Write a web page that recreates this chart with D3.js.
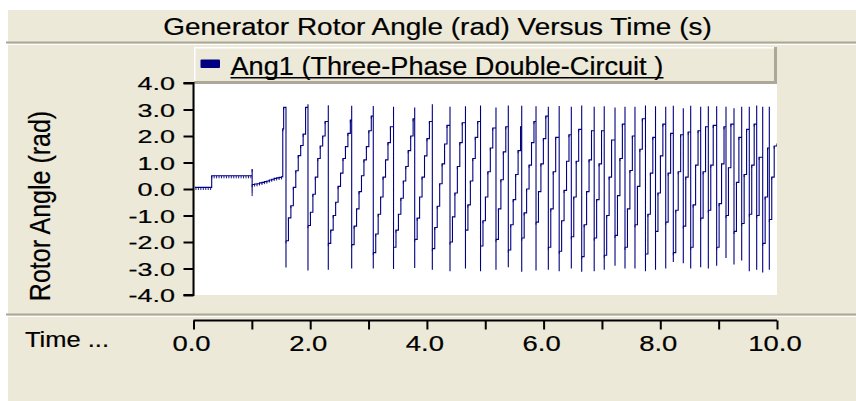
<!DOCTYPE html>
<html>
<head>
<meta charset="utf-8">
<script src="https://cdn.jsdelivr.net/npm/d3@7"></script>
<style>
  html, body { margin: 0; padding: 0; background: #ffffff; }
  svg { display: block; }
  text { font-family: "Liberation Sans", Arial, sans-serif; fill: #000; stroke: #000; stroke-width: 0.2px; }
</style>
</head>
<body>
<svg id="chart" width="856" height="401"></svg>
<script>
// ---- Text ----
const chartTitle = "Generator Rotor Angle (rad) Versus Time (s)";
const seriesName = "Ang1 (Three-Phase Double-Circuit )";
const yAxisTitle = "Rotor Angle (rad)";
const xAxisTitle = "Time ...";

// ---- Axes ----
const yTickValues = [-4, -3, -2, -1, 0, 1, 2, 3, 4];
const yTickLabels = ["-4.0", "-3.0", "-2.0", "-1.0", "0.0", "1.0", "2.0", "3.0", "4.0"];
const xTickValues = [0, 1, 2, 3, 4, 5, 6, 7, 8, 9, 10];
const xLabelValues = [0, 2, 4, 6, 8, 10];
const xTickLabels = ["0.0", "2.0", "4.0", "6.0", "8.0", "10.0"];

// ---- Series: rotor angle (rad) ----
// Output interval of the simulation (s)
const sampleInterval = 0.042;

// Steady state, first switching event and the fault period
const preTime = [0.000, 0.042, 0.084, 0.126, 0.168, 0.210, 0.252, 0.294,
  0.312, 0.354, 0.396, 0.438, 0.480, 0.522, 0.564, 0.606, 0.648, 0.690,
  0.732, 0.774, 0.816, 0.858, 0.900, 0.942, 0.984,
  1.005, 1.005, 1.005, 1.047, 1.089, 1.131, 1.173, 1.215, 1.257, 1.299,
  1.341, 1.383, 1.425, 1.467, 1.509, 1.530, 1.545];
const preAngle = [0.06, 0.06, 0.06, 0.06, 0.06, 0.06, 0.06, 0.06,
  0.50, 0.50, 0.50, 0.50, 0.50, 0.50, 0.50, 0.50, 0.50, 0.50,
  0.50, 0.50, 0.50, 0.50, 0.50, 0.50, 0.50,
  0.75, -0.17, 0.17, 0.19, 0.20, 0.23, 0.25, 0.28, 0.30, 0.34,
  0.37, 0.40, 0.42, 0.44, 0.46, 2.27, 3.08];

// Pole slips: instant where the angle wraps from +pi to -pi
const slipTime = [1.585, 1.962, 2.310, 2.711, 3.081, 3.428, 3.791, 4.093, 4.396, 4.661,
  4.919, 5.184, 5.395, 5.625, 5.870, 6.081, 6.267, 6.475, 6.653, 6.867,
  7.039, 7.224, 7.395, 7.566, 7.746, 7.918, 8.093, 8.223, 8.394, 8.521,
  8.692, 8.823, 8.966, 9.126, 9.263, 9.395, 9.525, 9.652, 9.755, 9.868];
const slipTop = [3.10, 3.20, 3.16, 3.14, 3.13, 3.10, 3.08, 3.20, 3.10, 3.12,
  3.15, 3.08, 3.15, 3.14, 3.12, 3.10, 3.13, 3.10, 3.15, 3.10,
  3.12, 3.08, 3.10, 3.10, 3.15, 3.12, 3.10, 3.14, 3.05, 3.14,
  3.10, 3.12, 3.12, 3.10, 3.05, 3.10, 3.10, 3.15, 3.10, 3.10];
const slipBottom = [-2.96, -3.08, -3.05, -3.00, -3.00, -3.02, -2.98, -3.05, -3.10, -3.00,
  -3.10, -3.05, -2.95, -3.12, -3.08, -3.05, -3.10, -3.00, -3.12, -3.10,
  -3.05, -2.90, -3.00, -3.00, -3.10, -3.05, -3.00, -2.75, -2.80, -3.00,
  -2.95, -3.00, -2.90, -2.60, -2.85, -2.70, -3.10, -3.05, -3.15, -3.05];
// Samples after each slip, one per output interval
const slipStairs = [
  [-1.95, -1.09, -0.63, 0.06, 0.69, 1.26, 1.64, 2.07, 3.08],
  [-1.38, -0.88, -0.20, 0.45, 1.15, 1.62, 2.00, 2.55],
  [-2.05, -1.55, -1.00, -0.50, 0.10, 0.60, 1.15, 1.60, 2.10, 2.60],
  [-2.10, -1.40, -0.75, -0.10, 0.50, 1.10, 1.60, 2.20, 2.75],
  [-2.40, -1.70, -0.95, -0.30, 0.45, 1.10, 1.75, 2.35],
  [-2.20, -1.55, -0.95, -0.35, 0.30, 0.85, 1.45, 2.00, 2.65],
  [-1.90, -1.10, -0.30, 0.45, 1.25, 1.90, 2.55],
  [-2.25, -1.45, -0.65, 0.20, 0.95, 1.70, 2.40],
  [-2.00, -1.05, -0.15, 0.85, 1.75, 2.50],
  [-1.55, -0.60, 0.30, 1.15, 1.95, 2.55],
  [-2.15, -1.20, -0.30, 0.65, 1.55, 2.30],
  [-1.90, -0.75, 0.35, 1.40, 2.35],
  [-2.30, -1.35, -0.40, 0.55, 1.45, 2.35],
  [-1.85, -0.90, 0.00, 0.90, 1.75, 2.55],
  [-1.25, -0.10, 0.95, 1.90, 2.75],
  [-2.20, -0.75, 0.65, 1.95],
  [-2.35, -1.20, -0.05, 1.05, 2.05],
  [-1.80, -0.30, 1.05, 2.25],
  [-2.55, -1.35, -0.10, 1.10, 2.20],
  [-1.85, -0.40, 0.95, 2.20],
  [-2.50, -1.00, 0.45, 1.85],
  [-1.75, -0.25, 1.15, 2.45],
  [-2.20, -0.75, 0.70, 2.00],
  [-1.35, 0.10, 1.50, 2.65],
  [-2.45, -0.95, 0.60, 1.95],
  [-1.60, -0.15, 1.25, 2.45],
  [-1.25, 0.60, 2.10],
  [-2.40, -0.80, 0.65, 2.05],
  [-1.40, 0.45, 2.15],
  [-2.20, -0.60, 0.90, 2.20],
  [-1.10, 0.65, 2.35],
  [-0.80, 0.90, 2.40],
  [-2.20, -0.55, 0.95, 2.35],
  [-1.00, 0.80, 2.45],
  [-1.60, 0.25, 1.95],
  [-1.30, 0.55, 2.25],
  [-0.95, 0.90, 2.45],
  [-1.00, 1.20],
  [-2.05, -0.30, 1.55],
  [-1.15, 0.45, 1.62]
];
const endTime = 10.0;
const endAngle = 1.72;

// ---- Assemble the series ----
const points = preTime.map((t, i) => ({ t, v: preAngle[i], sample: true }));
slipTime.forEach((ts, k) => {
  points.push({ t: ts, v: slipTop[k] });
  points.push({ t: ts, v: slipBottom[k] });
  slipStairs[k].forEach((v, i) => points.push({ t: ts + i * sampleInterval, v, sample: true }));
});
points.push({ t: endTime, v: endAngle });

// ---- Layout ----
const svg = d3.select("#chart");
const bg = "#ECE9D8";
const etch = "#ACA899";

const x = d3.scaleLinear().domain([0, 10]).range([193.5, 777]);
const y = d3.scaleLinear().domain([-4, 4]).range([295, 83]);

// Widen a text horizontally about its anchor point, either by a fixed factor
// or so that it spans a given width.
function widen(sel, px, py, opts) {
  sel.each(function (d, i) {
    const el = d3.select(this).attr("x", 0).attr("y", 0).attr("dy", null);
    const w = this.getComputedTextLength();
    const f = opts.width ? opts.width / w : opts.factor;
    const ax = typeof px === "function" ? px(d, i) : px;
    el.attr("transform", `translate(${ax},${py}) scale(${f},1)`);
  });
}

// window background
svg.append("rect").attr("x", 0).attr("y", 0).attr("width", 856).attr("height", 401).attr("fill", "#ffffff");
svg.append("rect").attr("x", 8).attr("y", 10).attr("width", 848).attr("height", 391).attr("fill", bg);

// title
const title = svg.append("text")
  .attr("text-anchor", "middle")
  .style("font-size", "24px")
  .text(chartTitle);
widen(title, 437.5, 35, { width: 549 });

// etched separators
svg.append("line").attr("x1", 6).attr("x2", 856).attr("y1", 42.5).attr("y2", 42.5)
  .attr("stroke", etch).attr("stroke-width", 2);
svg.append("line").attr("x1", 6).attr("x2", 856).attr("y1", 44.5).attr("y2", 44.5)
  .attr("stroke", "#ffffff").attr("stroke-width", 1);
svg.append("line").attr("x1", 6).attr("x2", 856).attr("y1", 314.5).attr("y2", 314.5)
  .attr("stroke", etch).attr("stroke-width", 2);
svg.append("line").attr("x1", 6).attr("x2", 856).attr("y1", 316.5).attr("y2", 316.5)
  .attr("stroke", "#ffffff").attr("stroke-width", 1);

// legend box (raised)
const lg = svg.append("g");
lg.append("rect").attr("x", 194).attr("y", 47).attr("width", 583).attr("height", 37).attr("fill", bg);
lg.append("rect").attr("x", 194).attr("y", 47).attr("width", 580).attr("height", 1.5).attr("fill", "#ffffff");
lg.append("rect").attr("x", 194).attr("y", 47).attr("width", 1.5).attr("height", 34).attr("fill", "#ffffff");
lg.append("rect").attr("x", 774).attr("y", 47).attr("width", 3).attr("height", 37).attr("fill", etch);
lg.append("rect").attr("x", 194).attr("y", 81).attr("width", 583).attr("height", 3).attr("fill", etch);
lg.append("rect").attr("x", 200.5).attr("y", 59.5).attr("width", 19.5).attr("height", 8.5)
  .attr("rx", 1).attr("fill", "#000080");
const lt = lg.append("text").style("font-size", "25px").text(seriesName);
widen(lt, 230.5, 75, { width: 433 });
lg.append("line").attr("x1", 230.5).attr("x2", 663.5).attr("y1", 77.8).attr("y2", 77.8)
  .attr("stroke", "#000").attr("stroke-width", 1.5);

// plot area
svg.append("rect").attr("x", 195).attr("y", 84).attr("width", 582).attr("height", 211).attr("fill", "#ffffff");
svg.append("clipPath").attr("id", "plotClip")
  .append("rect").attr("x", 195).attr("y", 84).attr("width", 582).attr("height", 211);

// series line
const line = d3.line().x(d => x(d.t)).y(d => y(d.v)).curve(d3.curveStepAfter);
const plot = svg.append("g").attr("clip-path", "url(#plotClip)");
plot.append("path").datum(points)
  .attr("d", line)
  .attr("fill", "none")
  .attr("stroke", "#000080")
  .attr("stroke-width", 1.1);
// sample notches
plot.append("g").selectAll("line")
  .data(points.filter(d => d.sample))
  .join("line")
  .attr("x1", d => x(d.t)).attr("x2", d => x(d.t))
  .attr("y1", d => y(d.v)).attr("y2", d => y(d.v) + 2.6)
  .attr("stroke", "#000080").attr("stroke-width", 0.9);

// y axis
const yAxis = d3.axisLeft(y).tickValues(yTickValues).tickSize(10).tickPadding(8)
  .tickFormat((d, i) => yTickLabels[i]);
const yg = svg.append("g").attr("transform", "translate(193.5,0)").call(yAxis);
yg.select(".domain").attr("stroke", "#000").attr("stroke-width", 2).attr("d", "M-10,83H0V295H-10");
yg.selectAll(".tick line").attr("stroke", "#000").attr("stroke-width", 2);
const yText = yg.selectAll(".tick text")
  .style("font-size", "18.6px").attr("font-family", null).attr("fill", "#000")
  .attr("text-anchor", "end");
widen(yText, -18.5, 6.7, { factor: 1.45 });

// y axis title
svg.append("text")
  .attr("transform", "translate(50,206) scale(1.15,1) rotate(-90)")
  .attr("text-anchor", "middle")
  .style("font-size", "25px")
  .text(yAxisTitle);

// x axis
const xAxis = d3.axisBottom(x).tickValues(xTickValues).tickSize(9).tickFormat("");
const xg = svg.append("g").attr("transform", "translate(0,320.5)").call(xAxis);
xg.select(".domain").attr("stroke", "#000").attr("stroke-width", 2).attr("d", "M193.5,0H777");
xg.selectAll(".tick line").attr("stroke", "#000").attr("stroke-width", 2);
const xl = svg.append("g").selectAll("text")
  .data(xLabelValues)
  .join("text")
  .attr("text-anchor", "middle")
  .style("font-size", "22.3px")
  .text((d, i) => xTickLabels[i]);
widen(xl, d => x(d) - 2, 351, { factor: 1.23 });

// x axis caption
const xc = svg.append("text").style("font-size", "22px").text(xAxisTitle);
widen(xc, 25, 347, { width: 84 });
</script>
</body>
</html>
